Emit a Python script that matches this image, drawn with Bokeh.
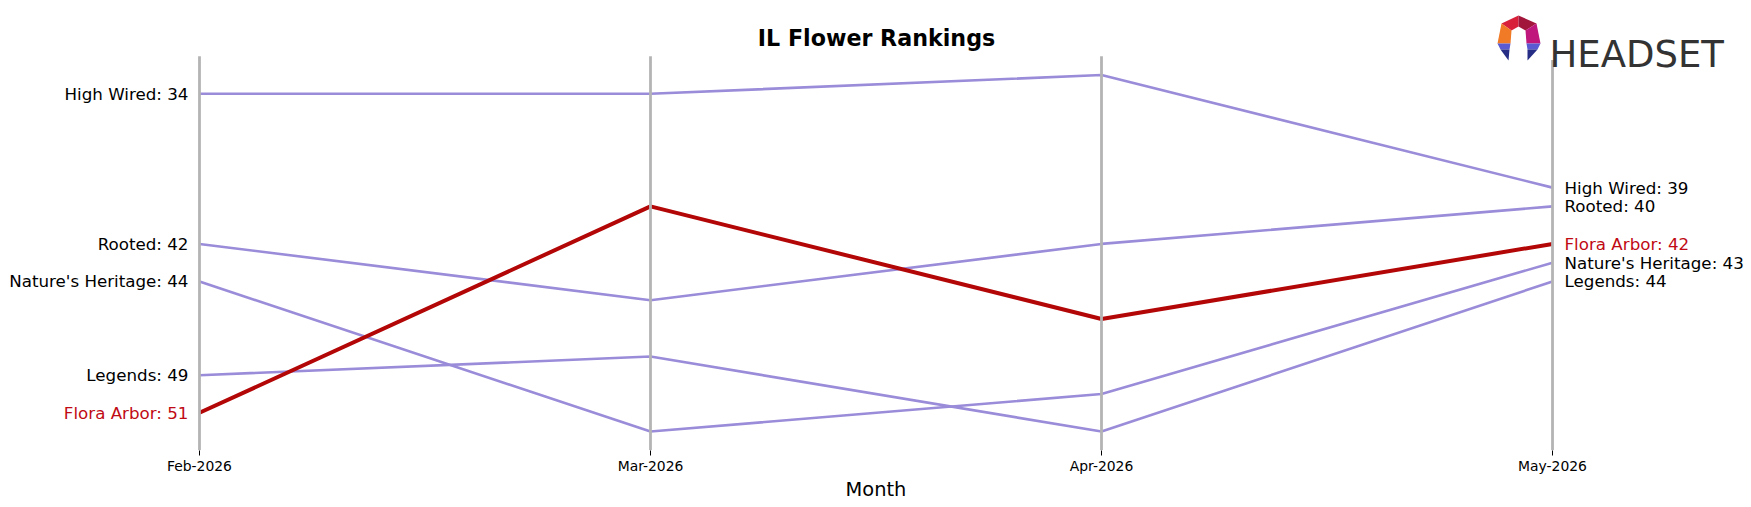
from bokeh.plotting import figure
from bokeh.models import Range1d, FixedTicker, ColumnDataSource
from bokeh.core.properties import value
from bokeh.embed import file_html
from bokeh.resources import INLINE

# ---------------- data ----------------
title_text = "IL Flower Rankings"
x_label = "Month"
months = ["Feb-2026", "Mar-2026", "Apr-2026", "May-2026"]
brands = ["High Wired", "Rooted", "Nature's Heritage", "Legends", "Flora Arbor"]
high_wired = [34, 34, 33, 39]
rooted = [42, 45, 42, 40]
natures_heritage = [44, 52, 50, 43]
legends = [49, 48, 52, 44]
flora_arbor = [51, 40, 46, 42]
highlight = "Flora Arbor"

series = [high_wired, rooted, natures_heritage, legends, flora_arbor]

# ---------------- style ----------------
W, H = 1751, 507
FRAME_H = 450
PURPLE = "#9a8cd9"
RED_LINE = "#b30606"
RED_TEXT = "#c00a14"
GRID = "#b4b4b4"
FONT = "DejaVu Sans"

xs = list(range(len(months)))
all_vals = [v for s in series for v in s]
rmin, rmax = min(all_vals) - 1, max(all_vals) + 1

p = figure(width=W, height=H, output_backend="svg", toolbar_location=None,
           x_range=Range1d(-0.4412, 3.4412), y_range=Range1d(53.009, 29.028),
           y_axis_location=None, min_border_left=0, min_border_right=0,
           min_border_top=0, min_border_bottom=H - FRAME_H)
p.extra_x_ranges = {"px": Range1d(0, W)}
p.extra_y_ranges = {"px": Range1d(FRAME_H, 0)}
p.outline_line_color = None
p.xgrid.visible = False
p.ygrid.visible = False
p.background_fill_color = "white"
p.border_fill_color = "white"

# lines
for name, vals in zip(brands, series):
    if name == highlight:
        continue
    p.line(xs, vals, line_color=PURPLE, line_width=2.6, line_join="round")
for name, vals in zip(brands, series):
    if name == highlight:
        p.line(xs, vals, line_color=RED_LINE, line_width=4, line_join="round")

# vertical month lines
p.segment(x0=xs, y0=[rmin] * len(xs), x1=xs, y1=[rmax] * len(xs),
          line_color=GRID, line_width=2.8)

# labels
colors = [RED_TEXT if b == highlight else "black" for b in brands]
left = ColumnDataSource(dict(x=[xs[0]] * len(brands), y=[s[0] for s in series],
                             t=[f"{b}: {s[0]}" for b, s in zip(brands, series)], c=colors))
right = ColumnDataSource(dict(x=[xs[-1]] * len(brands), y=[s[-1] for s in series],
                              t=[f"{b}: {s[-1]}" for b, s in zip(brands, series)], c=colors))
p.text(x="x", y="y", text="t", source=left, text_color="c", text_align="right",
       text_baseline="middle", x_offset=-11, text_font=value(FONT),
       text_font_size=value("16.7px"))
p.text(x="x", y="y", text="t", source=right, text_color="c", text_align="left",
       text_baseline="middle", x_offset=12, text_font=value(FONT),
       text_font_size=value("16.7px"))

# title
p.text(x=[876], y=[37], text=[title_text], x_range_name="px", y_range_name="px",
       text_align="center", text_baseline="middle", text_font=value(FONT),
       text_font_size=value("22.2px"), text_font_style="bold", text_color="black")

# logo (white backing like an image box)
p.quad(left=[1490], right=[1725], top=[0], bottom=[59.5], fill_color="white",
       line_color=None, x_range_name="px", y_range_name="px")
logo_polys = [
    ([1518, 1501, 1511, 1518], [15, 23, 30, 26], "#d9203a"),
    ([1518, 1536, 1525, 1518], [15, 23, 30, 26], "#a3163c"),
    ([1501, 1497, 1510, 1511], [23, 43, 43, 30], "#f07a25"),
    ([1536, 1540, 1526, 1525], [23, 43, 43, 30], "#c0177c"),
    ([1497, 1510, 1509, 1500], [43, 43, 49, 49], "#5a5ad2"),
    ([1500, 1509, 1508], [49, 49, 60], "#252d85"),
    ([1540, 1526, 1527, 1537], [43, 43, 49, 49], "#5a5ad2"),
    ([1537, 1527, 1527], [49, 49, 60], "#252d85"),
]
p.patches(xs=[a for a, b, c in logo_polys], ys=[b for a, b, c in logo_polys],
          fill_color=[c for a, b, c in logo_polys], line_color=None,
          x_range_name="px", y_range_name="px")
p.text(x=[1549], y=[54], text=["HEADSET"], x_range_name="px", y_range_name="px",
       text_align="left", text_baseline="alphabetic",
       text_font=value("DejaVu Sans"),
       text_font_size=value("37px"), text_color="#333333")

# axis
ax = p.xaxis[0]
ax.ticker = FixedTicker(ticks=xs)
ax.major_label_overrides = {i: m for i, m in zip(xs, months)}
ax.axis_line_color = None
ax.major_tick_in = 0
ax.major_tick_out = 5
ax.major_tick_line_color = "black"
ax.major_tick_line_width = 1
ax.minor_tick_line_color = None
ax.major_label_text_font = FONT
ax.major_label_text_font_size = "13.9px"
ax.major_label_text_color = "black"
ax.major_label_standoff = 2
ax.axis_label = x_label
ax.axis_label_text_font = FONT
ax.axis_label_text_font_size = "19.4px"
ax.axis_label_text_font_style = "normal"
ax.axis_label_text_color = "black"
ax.axis_label_standoff = 1

open("out.html", "w").write(file_html(p, INLINE))
